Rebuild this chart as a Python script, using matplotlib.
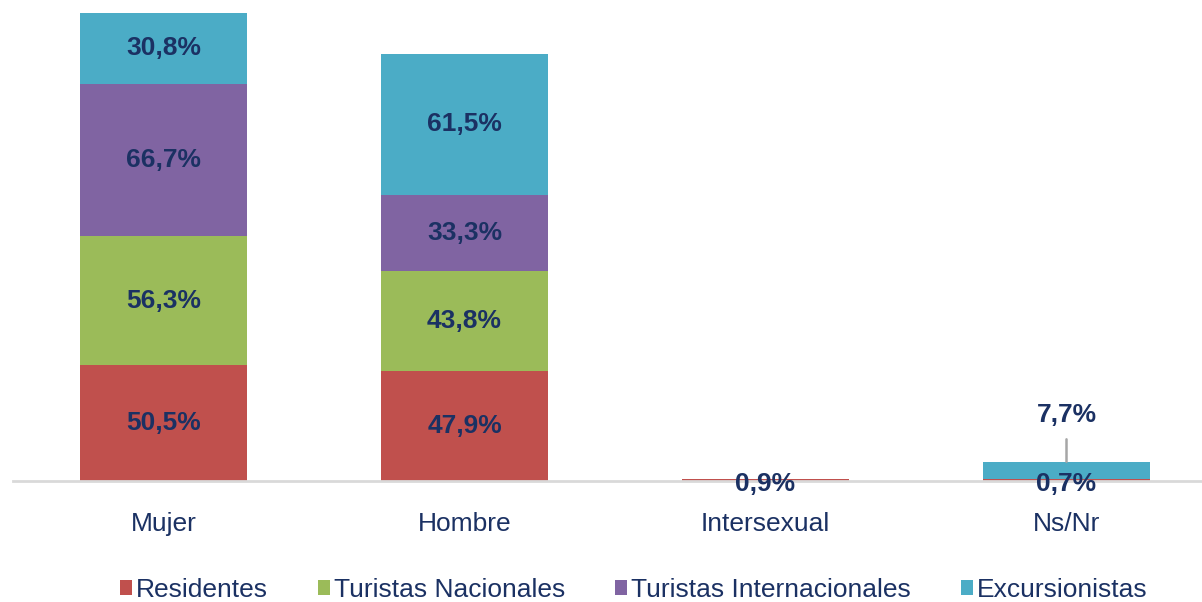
import numpy as np
import matplotlib.pyplot as plt

categories = ['Mujer', 'Hombre', 'Intersexual', 'Ns/Nr']
series_names = ['Residentes', 'Turistas Nacionales', 'Turistas Internacionales', 'Excursionistas']
residentes = [50.5, 47.9, 0.9, 0.7]
turistas_nac = [56.3, 43.8, 0.0, 0.0]
turistas_int = [66.7, 33.3, 0.0, 0.0]
excursionistas = [30.8, 61.5, 0.0, 7.7]

colors = ['#C0504D', '#9BBB59', '#8064A2', '#4BACC6']
label_color = '#1B3163'

plt.rcParams['font.family'] = ['Liberation Sans Narrow', 'Liberation Sans', 'DejaVu Sans']

fig = plt.figure(figsize=(12.02, 6.02), dpi=100)
ax = fig.add_axes([13 / 1202, 1 - 481 / 602, 1 - 13 / 1202, 481 / 602])

x = np.arange(len(categories))
width = 0.555
bottom = np.zeros(len(categories))
all_series = [residentes, turistas_nac, turistas_int, excursionistas]

for name, vals, col in zip(series_names, all_series, colors):
    vals = np.array(vals)
    ax.bar(x, vals, width, bottom=bottom, color=col, label=name, linewidth=0)
    for i, v in enumerate(vals):
        if v <= 0:
            continue
        if categories[i] == 'Ns/Nr' and name == 'Excursionistas':
            ax.annotate(f'{v:.1f}%'.replace('.', ','), xy=(x[i], bottom[i] + v),
                        xytext=(x[i], bottom[i] + v + 20.5), ha='center', va='center',
                        fontsize=19, fontweight='bold', color=label_color,
                        arrowprops=dict(arrowstyle='-', color='#A6A6A6', lw=1.8,
                                        shrinkA=7, shrinkB=0))
            continue
        yc = bottom[i] + v / 2
        if v < 2:
            yc = -1.5
        ax.text(x[i], yc, f'{v:.1f}%'.replace('.', ','), ha='center', va='center',
                fontsize=19, fontweight='bold', color=label_color, clip_on=False)
    bottom += vals

ax.set_xlim(-0.5, 3.5 - 15 / 301)
ax.set_ylim(0, 481 / 2.29)
ax.set_xticks(x)
ax.set_xticklabels(categories, fontsize=19, color=label_color)
ax.tick_params(axis='x', length=0, pad=22)
ax.set_yticks([])
for s in ['top', 'right', 'left']:
    ax.spines[s].set_visible(False)
ax.spines['bottom'].set_color('#D9D9D9')
ax.spines['bottom'].set_linewidth(2)

leg = fig.legend(loc='lower center', bbox_to_anchor=(0.527, -0.04), ncol=4, frameon=False,
                 fontsize=19, handlelength=0.45, handleheight=0.5, handletextpad=0.15,
                 columnspacing=1.9, labelcolor=label_color)

plt.savefig('out.png', dpi=100)
